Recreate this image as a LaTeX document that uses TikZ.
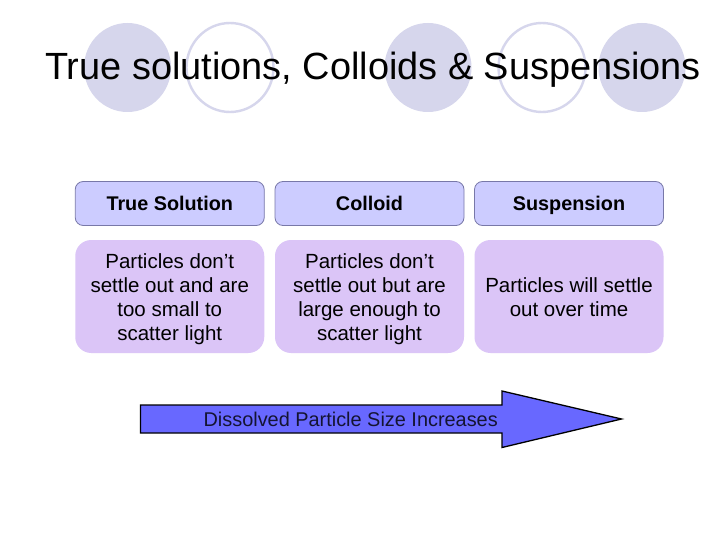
\documentclass[tikz,border=0pt]{standalone}
\usepackage{fontspec}
\setmainfont{Liberation Sans}
\definecolor{ellcol}{RGB}{214,214,236}
\definecolor{headfill}{RGB}{204,204,255}
\definecolor{headdraw}{RGB}{120,120,168}
\definecolor{bodyfill}{RGB}{219,197,247}
\definecolor{arrowfill}{RGB}{104,104,255}
\definecolor{arrowtext}{RGB}{20,20,50}
\tikzset{
  deco/.style={ellcol, x radius=43.5, y radius=44.5},
  headbox/.style={draw=headdraw, line width=0.8pt, fill=headfill, rounded corners=8pt,
    minimum width=189pt, minimum height=44pt, inner sep=0pt,
    text height=14.5pt, text depth=0pt,
    font=\fontsize{19.8}{23}\selectfont\bfseries, text=black},
  bodybox/.style={fill=bodyfill, rounded corners=16pt,
    minimum width=189pt, minimum height=113pt, inner sep=0pt},
  bodytext/.style={inner sep=0pt, align=center, font=\fontsize{20.5}{24}\selectfont, text=black},
}
\begin{document}
\begin{tikzpicture}[x=1pt,y=-1pt]
\useasboundingbox (0,0) rectangle (720,540);
\fill[white] (0,0) rectangle (720,540);
% decorative ellipses
\fill[deco] (127.5,67.5) ellipse [];
\draw[deco, line width=2.4pt] (230,67.5) ellipse [];
\fill[deco] (428,67.5) ellipse [];
\draw[deco, line width=2.4pt] (542,67.5) ellipse [];
\fill[deco] (642,67.5) ellipse [];
% title
\node[anchor=base west, inner sep=0pt, font=\fontsize{37.9}{44}\selectfont] (title) at (45,80) {True solutions, Colloids \& Suspensions};
% headers
\node[headbox] (h1) at (169.75,203.5) {True Solution};
\node[headbox] (h2) at (369.5,203.5) {Colloid};
\node[headbox] (h3) at (569,203.5) {Suspension};
% bodies
\node[bodybox] (b1) at (169.75,296.5) {};
\node[bodybox] (b2) at (369.5,296.5) {};
\node[bodybox] (b3) at (569,296.5) {};
\node[bodytext] (t1) at ([yshift=-2.5pt]b1.center) {Particles don’t\\settle out and are\\too small to\\scatter light};
\node[bodytext] (t2) at ([yshift=-2.5pt]b2.center) {Particles don’t\\settle out but are\\large enough to\\scatter light};
\node[bodytext] (t3) at ([yshift=-1pt]b3.center) {Particles will settle\\out over time};
% arrow
\draw[fill=arrowfill, line width=1.3pt, line join=miter]
  (140.5,405) -- (502,405) -- (502,391) -- (621.5,419) -- (502,447.5) -- (502,433) -- (140.5,433) -- cycle;
\node[anchor=base east, inner sep=0pt, text=arrowtext, font=\fontsize{19.9}{23}\selectfont] (lbl) at (498,426.5) {Dissolved Particle Size Increases};
\end{tikzpicture}
\end{document}
